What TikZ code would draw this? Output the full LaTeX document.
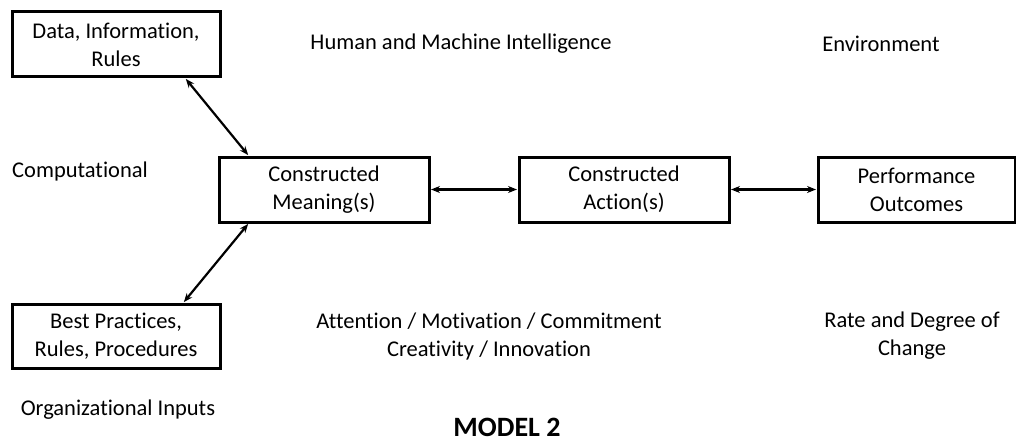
\documentclass[tikz,border=0pt]{standalone}
\usepackage{fontspec}
\setmainfont{Carlito}[Ligatures=NoCommon]
\usetikzlibrary{arrows.meta}
\tikzset{
  box/.style={draw=black, line width=3pt, rectangle, inner sep=0pt, align=center, font=\fontsize{22.5}{28}\selectfont},
  lbl/.style={align=center, inner sep=0pt, font=\fontsize{22.5}{28}\selectfont},
  conn/.style={line width=2.2pt, {Stealth[length=9pt,width=7pt]}-{Stealth[length=9pt,width=7pt]}, shorten <=0.5pt, shorten >=0.5pt}
}
\begin{document}
\begin{tikzpicture}[x=1pt,y=-1pt]
\useasboundingbox (0,0) rectangle (1016,441);
\node[box, minimum width=208pt, minimum height=65pt] (data) at (116,44.5) {Data, Information,\\Rules};
\node[box, minimum width=210pt, minimum height=65pt] (meaning) at (324,189.5) {Constructed\\Meaning(s)};
\node[box, minimum width=210pt, minimum height=65pt] (action) at (624,189.5) {Constructed\\Action(s)};
\node[box, minimum width=197pt, minimum height=65pt] (perf) at (916.5,189.5) {Performance\\Outcomes};
\node[box, minimum width=208pt, minimum height=64pt] (best) at (116,336) {Best Practices,\\Rules, Procedures};

\node[lbl] (hmi) at (461,44) {Human and Machine Intelligence};
\node[lbl] (env) at (881,44) {Environment};
\node[lbl] (comp) at (80,172) {Computational};
\node[lbl] (att) at (489,336) {Attention / Motivation / Commitment\\Creativity / Innovation};
\node[lbl] (rate) at (912,336) {Rate and Degree of\\Change};
\node[lbl] (org) at (118,410) {Organizational Inputs};
\node[lbl, anchor=base, font=\fontsize{28}{32}\selectfont\bfseries] (model) at (507,436) {MODEL 2};

\draw[conn] ([xshift=-36pt]data.south east) -- ([xshift=31pt]meaning.north west);
\draw[conn] ([xshift=31pt]meaning.south west) -- ([xshift=-38pt]best.north east);
\draw[conn] (meaning.east) -- (action.west);
\draw[conn] (action.east) -- (perf.west);
\end{tikzpicture}
\end{document}
